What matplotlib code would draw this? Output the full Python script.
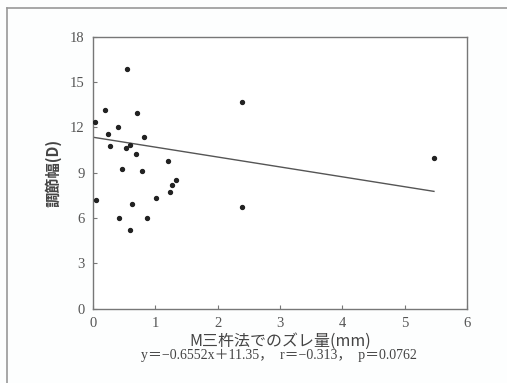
import matplotlib
matplotlib.use('Agg')
import matplotlib.pyplot as plt
import numpy as np

# data
shift_mm = [0.03, 0.05, 0.19, 0.24, 0.27, 0.40, 0.41, 0.47, 0.54, 0.53, 0.59, 0.59, 0.63,
            0.69, 0.71, 0.79, 0.82, 0.86, 1.01, 1.21, 1.23, 1.26, 1.33, 2.39, 2.39, 5.47]
accom_D = [12.38, 7.17, 13.13, 11.58, 10.79, 12.02, 6.00, 9.24, 15.86, 10.61, 10.83, 5.18, 6.90,
           10.24, 12.93, 9.13, 11.34, 6.00, 7.32, 9.75, 7.70, 8.16, 8.49, 13.66, 6.75, 9.97]
slope, intercept = -0.6552, 11.35
xticks = [0, 1, 2, 3, 4, 5, 6]
yticks = [0, 3, 6, 9, 12, 15, 18]

serif = ['Liberation Serif', 'Noto Sans CJK JP', 'DejaVu Serif']
jp = ['Noto Sans CJK JP', 'DejaVu Sans']
txt = '#444444'
axc = '#777777'

fig = plt.figure(figsize=(5.07, 3.83), dpi=100)
fig.patch.set_facecolor('#fdfefe')

# frame around the figure (top and left edges show)
fig.add_artist(plt.Line2D([7/507, 7/507], [0, 1 - 8/383], transform=fig.transFigure,
                          color='#999999', lw=1.2))
fig.add_artist(plt.Line2D([7/507, 1], [1 - 8/383, 1 - 8/383], transform=fig.transFigure,
                          color='#999999', lw=1.2))

ax = fig.add_axes([0.1834, 0.194, 0.7377, 0.710])
ax.set_facecolor('white')
ax.scatter(shift_mm, accom_D, s=8, color='#222222', zorder=3)
xl = np.array([0, max(shift_mm)])
ax.plot(xl, slope * xl + intercept, color='#555555', lw=1.0)

ax.set_xlim(0, 6)
ax.set_ylim(0, 18)
ax.set_xticks(xticks)
ax.set_yticks(yticks)
ax.tick_params(direction='in', length=3, width=0.8, color=axc, labelcolor='#555555', pad=6)
for lab in ax.get_xticklabels() + ax.get_yticklabels():
    lab.set_family(serif)
    lab.set_fontsize(10.5)
for s in ax.spines.values():
    s.set_color(axc)
    s.set_linewidth(1.0)

ax.set_xlabel('M三杵法でのズレ量(mm)', family=jp, fontsize=11.5, color=txt, labelpad=2)
ax.set_ylabel('調節幅(D)', family=jp, fontsize=11, color=txt, fontweight='bold', labelpad=6)
fig.text(279/507, 1 - 355/383, 'y＝−0.6552x＋11.35，  r＝−0.313，  p＝0.0762',
         family=serif, fontsize=10, color=txt, ha='center', va='center')

fig.savefig('out.png', dpi=100, facecolor=fig.get_facecolor())
